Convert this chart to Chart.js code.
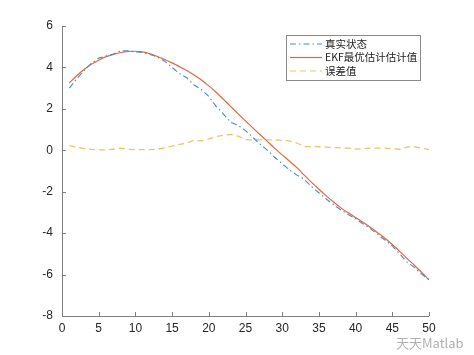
<!DOCTYPE html>
<html>
<head>
<meta charset="utf-8">
<script src="https://cdn.jsdelivr.net/npm/chart.js@4.4.0/dist/chart.umd.min.js"></script>
<style>
html,body{margin:0;padding:0;background:#fff;}
#wrap{width:474px;height:355px;position:relative;}
</style>
</head>
<body>
<div id="wrap"><canvas id="c" width="474" height="355"></canvas></div>
<script>
const steps = [1,2,3,4,5,6,7,8,9,10,11,12,13,14,15,16,17,18,19,20,21,22,23,24,25,26,27,28,29,30,31,32,33,34,35,36,37,38,39,40,41,42,43,44,45,46,47,48,49,50];
const trueState = [3.0,3.45,3.85,4.2,4.45,4.55,4.65,4.8,4.8,4.75,4.72,4.62,4.5,4.3,4.0,3.7,3.5,3.15,2.93,2.6,2.12,1.75,1.35,1.2,0.95,0.62,0.3,0.0,-0.35,-0.65,-0.95,-1.2,-1.4,-1.75,-2.05,-2.35,-2.62,-2.88,-3.1,-3.3,-3.55,-3.78,-4.05,-4.33,-4.62,-5.0,-5.4,-5.65,-5.98,-6.25];
const ekfEstimate = [3.25,3.6,3.9,4.15,4.35,4.52,4.63,4.72,4.77,4.78,4.75,4.66,4.53,4.38,4.22,4.04,3.85,3.63,3.39,3.11,2.8,2.46,2.11,1.76,1.42,1.08,0.75,0.42,0.09,-0.22,-0.53,-0.84,-1.2,-1.55,-1.88,-2.2,-2.5,-2.78,-3.02,-3.25,-3.48,-3.72,-3.98,-4.25,-4.55,-4.88,-5.22,-5.55,-5.9,-6.25];
const errorValue = [0.23,0.15,0.08,0.04,0.02,0.02,0.05,0.1,0.05,0.03,0.03,0.03,0.05,0.12,0.2,0.28,0.35,0.48,0.45,0.55,0.66,0.72,0.77,0.68,0.52,0.5,0.5,0.5,0.5,0.48,0.45,0.35,0.18,0.18,0.17,0.15,0.13,0.12,0.1,0.06,0.07,0.1,0.1,0.1,0.07,0.05,0.15,0.18,0.1,0.03];
const seriesNames = ['真实状态','EKF最优估计估计值','误差值'];
const xTicks = [0,5,10,15,20,25,30,35,40,45,50];
const yTicks = [-8,-6,-4,-2,0,2,4,6];

const pts = arr => steps.map((s,i)=>({x:s,y:arr[i]}));
const AXIS = '#7f7f7f';

const inwardTicks = {
  id:'inwardTicks',
  afterDraw(chart){
    const ctx = chart.ctx, a = chart.chartArea;
    const xs = chart.scales.x, ys = chart.scales.y;
    ctx.save();
    ctx.strokeStyle = AXIS; ctx.lineWidth = 1;
    ctx.beginPath();
    ctx.moveTo(a.left+0.5, a.top); ctx.lineTo(a.left+0.5, a.bottom+0.5); ctx.lineTo(a.right, a.bottom+0.5);
    xTicks.forEach(v=>{const px=Math.round(xs.getPixelForValue(v))+0.5; ctx.moveTo(px,a.bottom); ctx.lineTo(px,a.bottom-4);});
    yTicks.forEach(v=>{const py=Math.round(ys.getPixelForValue(v))+0.5; ctx.moveTo(a.left,py); ctx.lineTo(a.left+4,py);});
    ctx.stroke();
    // legend
    const lx=286, ly=35, lw=134, lh=45;
    ctx.fillStyle='#fff'; ctx.fillRect(lx,ly,lw,lh);
    ctx.strokeStyle='#8a8a8a'; ctx.strokeRect(lx+0.5,ly+0.5,lw,lh);
    chart.data.datasets.forEach((d,i)=>{
      const y = ly+9+i*13.5;
      ctx.strokeStyle=d.borderColor; ctx.lineWidth=1.2;
      ctx.setLineDash(d.borderDash||[]);
      ctx.beginPath(); ctx.moveTo(lx+4,y); ctx.lineTo(lx+36,y); ctx.stroke();
      ctx.setLineDash([]);
      ctx.fillStyle='#222'; ctx.font='10.5px "Noto Sans CJK SC", "Liberation Sans", sans-serif';
      ctx.textBaseline='middle'; ctx.textAlign='left';
      ctx.fillText(d.label, lx+39, y);
    });
    // watermark
    ctx.fillStyle='rgba(150,150,150,0.75)';
    ctx.font='13px "Noto Sans CJK SC", sans-serif';
    ctx.textBaseline='middle'; ctx.textAlign='left';
    ctx.fillText('天天Matlab', 396, 343);
    ctx.restore();
  }
};

new Chart(document.getElementById('c'), {
  type:'line',
  data:{datasets:[
    {label:seriesNames[0], data:pts(trueState), borderColor:'#3f8fcf', borderWidth:1.1, borderDash:[6,3,1.5,3], pointRadius:0, tension:0, fill:false},
    {label:seriesNames[1], data:pts(ekfEstimate), borderColor:'#e8643a', borderWidth:1.2, pointRadius:0, tension:0.3, fill:false},
    {label:seriesNames[2], data:pts(errorValue), borderColor:'#efc26a', borderWidth:1.3, borderDash:[6,4], pointRadius:0, tension:0, fill:false}
  ]},
  options:{
    responsive:false, animation:false, devicePixelRatio:1,
    layout:{padding:{left:0,right:45,top:26,bottom:0}},
    plugins:{legend:{display:false}, tooltip:{enabled:false}},
    scales:{
      x:{type:'linear', min:0, max:50,
        afterBuildTicks(s){s.ticks = xTicks.map(v=>({value:v}));},
        afterFit(s){s.height=39;},
        grid:{display:false, drawTicks:false},
        border:{display:false},
        ticks:{padding:5, color:'#262626', font:{family:'"Liberation Sans", Arial, sans-serif', size:12}, maxRotation:0, autoSkip:false}
      },
      y:{type:'linear', min:-8, max:6,
        afterBuildTicks(s){s.ticks = yTicks.map(v=>({value:v}));},
        afterFit(s){s.width=62;},
        grid:{display:false, drawTicks:false},
        border:{display:false},
        ticks:{padding:9, color:'#262626', font:{family:'"Liberation Sans", Arial, sans-serif', size:12}, autoSkip:false}
      }
    }
  },
  plugins:[inwardTicks]
});
</script>
</body>
</html>
